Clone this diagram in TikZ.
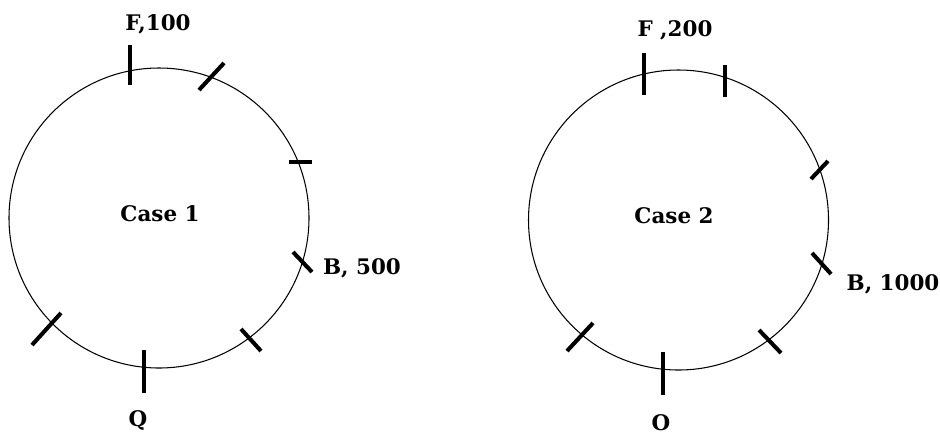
\documentclass[tikz,border=0pt]{standalone}
\usepackage{fontspec}
\setmainfont{DejaVu Serif}
\usepackage{tikz}

\begin{document}
\begin{tikzpicture}[x=0.2mm,y=-0.2mm,every node/.style={font=\fontsize{12.2}{14}\selectfont\bfseries}]
  \useasboundingbox (0,0) rectangle (940,436);
  \tikzset{ring/.style={line width=0.6pt},tick/.style={line width=2.3pt}}

  % Case 1
  \draw[ring] (159,218) circle (150);
  \node (caseA) at (160,214) {Case 1};
  \draw[tick] (130,45)--(130,85);
  \draw[tick] (199,90)--(224,63);
  \draw[tick] (289,162)--(312,162);
  \draw[tick] (293,252)--(312,272);
  \draw[tick] (241,329)--(261,351);
  \draw[tick] (144,350)--(144,393);
  \draw[tick] (32,345)--(61,313);
  \node (fA) at (158,24) {F,100};
  \node (bA) at (362,268) {B, 500};
  \node (qA) at (138,420) {Q};

  % Case 2
  \draw[ring] (678.5,220) circle (150);
  \node (caseB) at (674,216) {Case 2};
  \draw[tick] (644,53)--(644,95);
  \draw[tick] (725,65)--(725,97);
  \draw[tick] (811,179)--(828,161);
  \draw[tick] (812,253)--(831,274);
  \draw[tick] (759,330)--(781,353);
  \draw[tick] (663,352)--(663,395);
  \draw[tick] (567,351)--(593,323);
  \node (fB) at (675,30) {F ,200};
  \node (bB) at (893,284) {B, 1000};
  \node[inner sep=0pt] (oB) at (661,423) {O};
\end{tikzpicture}
\end{document}
